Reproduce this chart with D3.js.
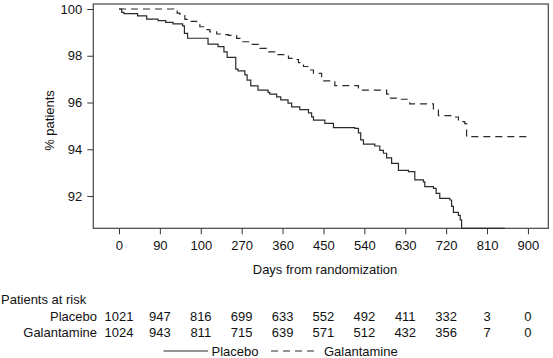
<!DOCTYPE html>
<html>
<head>
<meta charset="utf-8">
<script src="https://cdn.jsdelivr.net/npm/d3@7"></script>
<style>
  html, body { margin: 0; padding: 0; background: #fff; }
  svg { display: block; }
  text { font-family: "Liberation Sans", Arial, Helvetica, sans-serif; font-size: 13px; fill: #111; }
</style>
</head>
<body>
<svg id="chart" width="553" height="358"></svg>
<script>
// ---- data ----
const xTickValues = [0, 90, 180, 270, 360, 450, 540, 630, 720, 810, 900];
const xTickLabels = ["0", "90", "100", "270", "360", "450", "540", "630", "720", "810", "900"];
const yTickValues = [92, 94, 96, 98, 100];

const placeboDays = [0,6,11,41,61,86,103,119,140,144,151,196,218,231,238,257,262,277,282,290,306,328,332,347,356,372,380,398,417,424,428,453,472,519,527,532,538,563,574,582,589,600,615,637,651,670,673,692,698,706,728,732,736,747,751,754,849];
const placeboPct = [100,99.86,99.80,99.71,99.57,99.50,99.43,99.36,99.28,98.96,98.75,98.50,98.39,98.17,97.93,97.43,97.35,97.18,96.96,96.71,96.53,96.43,96.36,96.24,96.11,95.97,95.81,95.70,95.56,95.39,95.25,95.11,94.93,94.89,94.70,94.40,94.22,94.14,93.95,93.83,93.63,93.40,93.10,93.04,92.69,92.61,92.40,92.33,92.11,91.90,91.83,91.56,91.30,91.17,90.98,90.62,90.62];

const galDays = [0,121,128,134,145,156,171,178,189,200,215,227,241,259,270,288,307,310,325,343,373,384,395,406,420,428,446,475,527,589,596,615,640,692,703,739,747,761,765,900];
const galPct = [100,99.91,99.82,99.72,99.56,99.47,99.34,99.24,99.12,99.02,98.93,98.90,98.87,98.74,98.60,98.49,98.45,98.32,98.17,98.05,97.89,97.84,97.71,97.54,97.39,97.25,96.93,96.72,96.53,96.36,96.19,96.14,95.94,95.68,95.44,95.38,95.18,95.10,94.54,94.54];

const riskGroups = ["Placebo", "Galantamine"];
const riskPlacebo = [1021, 947, 816, 699, 633, 552, 492, 411, 332, 3, 0];
const riskGal = [1024, 943, 811, 715, 639, 571, 512, 432, 356, 7, 0];

// ---- layout ----
const svg = d3.select("#chart");
const L = 93.3, R = 548.3, T = 4, B = 228.3;
const x = d3.scaleLinear().domain([-56.5, 944.8]).range([L, R]);
const y = d3.scaleLinear().domain([90.62, 100.214]).range([B, T]);
const lineColor = "#2a2a2a";

// axes
const xAxis = d3.axisBottom(x).tickValues(xTickValues)
  .tickFormat((d, i) => xTickLabels[i]).tickSize(6).tickPadding(6).tickSizeOuter(0);
const gx = svg.append("g").attr("transform", `translate(0,${B})`).call(xAxis);
gx.select(".domain").remove();
gx.selectAll("line").attr("stroke", "#333");
gx.selectAll("text").style("font-size", "13px").attr("fill", "#111");

const yAxis = d3.axisLeft(y).tickValues(yTickValues).tickSize(6).tickPadding(5).tickSizeOuter(0);
const gy = svg.append("g").attr("transform", `translate(${L},0)`).call(yAxis);
gy.select(".domain").remove();
gy.selectAll("line").attr("stroke", "#333");
gy.selectAll("text").style("font-size", "13px").attr("fill", "#111");

// frame
svg.append("rect").attr("x", L).attr("y", T).attr("width", R - L).attr("height", B - T)
  .attr("fill", "none").attr("stroke", "#444").attr("stroke-width", 1.2);

// curves
const line = d3.line().x(d => x(d[0])).y(d => y(d[1])).curve(d3.curveStepAfter);
svg.append("path").datum(placeboDays.map((d, i) => [d, placeboPct[i]]))
  .attr("d", line).attr("fill", "none").attr("stroke", lineColor).attr("stroke-width", 1.2);
svg.append("path").datum(galDays.map((d, i) => [d, galPct[i]]))
  .attr("d", line).attr("fill", "none").attr("stroke", lineColor).attr("stroke-width", 1.2)
  .attr("stroke-dasharray", "7,5");

// axis titles
svg.append("text").attr("x", 325).attr("y", 274).attr("text-anchor", "middle")
  .text("Days from randomization");
svg.append("text").attr("transform", "translate(54,120.5) rotate(-90)")
  .attr("text-anchor", "middle").text("% patients");

// patients at risk
svg.append("text").attr("x", 1).attr("y", 304).text("Patients at risk");
const rows = [riskPlacebo, riskGal];
const rowY = [320.5, 337];
rows.forEach((vals, r) => {
  svg.append("text").attr("x", 97).attr("y", rowY[r]).attr("text-anchor", "end").text(riskGroups[r]);
  svg.append("g").selectAll("text").data(vals).join("text")
    .attr("x", (d, i) => x(xTickValues[i])).attr("y", rowY[r])
    .attr("text-anchor", "middle").text(d => d);
});

// legend
const ly = 351;
svg.append("line").attr("x1", 163.5).attr("x2", 208).attr("y1", ly).attr("y2", ly)
  .attr("stroke", lineColor).attr("stroke-width", 1.2);
svg.append("text").attr("x", 211.5).attr("y", ly + 4.5).text(riskGroups[0]);
svg.append("line").attr("x1", 271).attr("x2", 315).attr("y1", ly).attr("y2", ly)
  .attr("stroke", lineColor).attr("stroke-width", 1.2).attr("stroke-dasharray", "7,5");
svg.append("text").attr("x", 324).attr("y", ly + 4.5).text(riskGroups[1]);
</script>
</body>
</html>
